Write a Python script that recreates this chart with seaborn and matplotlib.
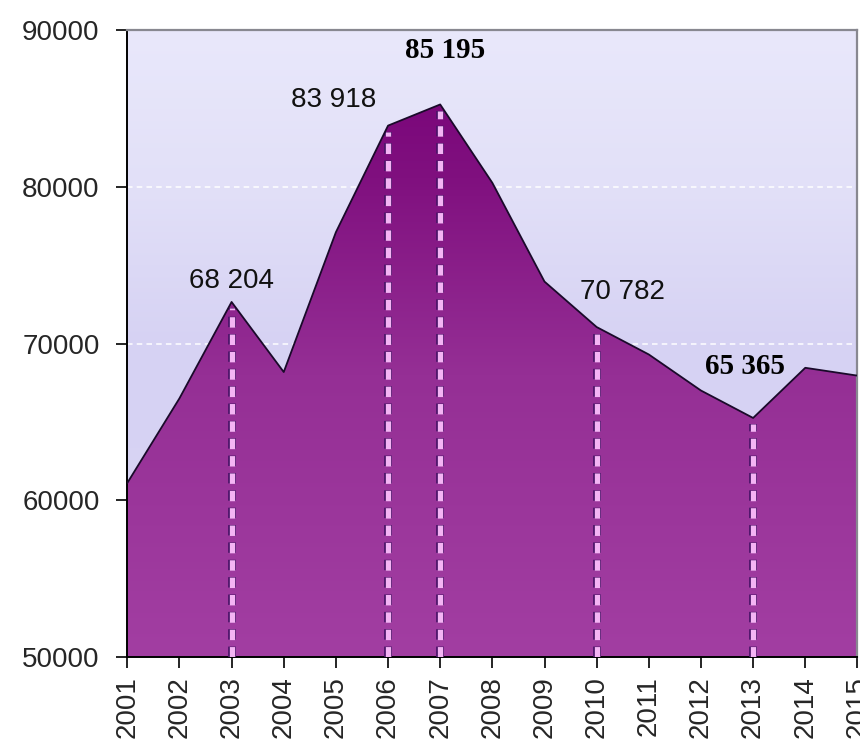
import numpy as np
import pandas as pd
import matplotlib
matplotlib.use("Agg")
import matplotlib.pyplot as plt
import matplotlib.patheffects as pe
import seaborn as sns
from matplotlib.colors import LinearSegmentedColormap

years = list(range(2001, 2016))
values = [61100, 66500, 72650, 68180, 77100, 83900, 85250, 80250,
          73950, 71050, 69300, 67000, 65250, 68450, 67950]
marked_years = [2003, 2006, 2007, 2010, 2013]
label_texts = ["68 204", "83 918", "85 195", "70 782", "65 365"]
label_x = [2003.0, 2004.95, 2007.1, 2010.5, 2012.85]
label_y = [74000, 85550, 88700, 73300, 68550]
label_bold = [False, False, True, False, True]
ytick_vals = [50000, 60000, 70000, 80000, 90000]
ytick_labels = ["50000", "60000", "70000", "80000", "90000"]

df = pd.DataFrame({"year": years, "value": values})

sns.set_theme(style="white")
plt.rcParams["font.family"] = ["Liberation Sans", "DejaVu Sans"]
plt.rcParams["lines.scale_dashes"] = False

fig = plt.figure(figsize=(8.6, 7.5), dpi=100)
ax = fig.add_axes([0.148, 0.124, 0.849, 0.836])

x0, x1 = years[0], years[-1]
y0, y1 = 50000, 90000
ax.set_xlim(x0, x1)
ax.set_ylim(y0, y1)

# background gradient
bg_cmap = LinearSegmentedColormap.from_list(
    "bg", [(0.0, "#d9d5f4"), (0.5, "#d6d2f3"), (0.75, "#e2e0f8"), (1.0, "#e9e8fb")])
grad = np.linspace(0, 1, 256).reshape(-1, 1)
ax.imshow(grad, cmap=bg_cmap, aspect="auto", extent=[x0, x1, y0, y1],
          origin="lower", zorder=0)

# gridlines
for gy in [60000, 70000, 80000]:
    ax.axhline(gy, color="white", lw=1.2, ls=(0, (4, 3)), zorder=1, alpha=0.9)

# area with gradient
poly = ax.fill_between(df["year"], df["value"], y0, color="none", lw=0, zorder=2)
area_cmap = LinearSegmentedColormap.from_list(
    "area", [(0.0, "#a23ea2"), (0.5, "#952f95"), (0.85, "#80107f"), (1.0, "#7a067a")])
im = ax.imshow(grad, cmap=area_cmap, aspect="auto",
               extent=[x0, x1, y0, 86000], origin="lower", zorder=2)
path = poly.get_paths()[0]
im.set_clip_path(path, transform=ax.transData)

sns.lineplot(data=df, x="year", y="value", ax=ax, color="#1a0a2a", lw=1.3,
             zorder=4, legend=False)

# vertical dashed lines
for yr in marked_years:
    v = values[years.index(yr)]
    ax.plot([yr, yr], [y0, v - 400], color="#f4b4f4", lw=3.8,
            ls=(0, (7.5, 5)), zorder=3.5, dash_capstyle="butt",
            path_effects=[pe.withStroke(linewidth=5.6, foreground="#4a1468")])

# annotations
for tx, lx, ly, b in zip(label_texts, label_x, label_y, label_bold):
    if b:
        ax.text(lx, ly, tx, ha="center", va="center", fontsize=21,
                fontweight="bold", family=["Liberation Serif", "DejaVu Serif"],
                color="black", zorder=5)
    else:
        ax.text(lx, ly, tx, ha="center", va="center", fontsize=20,
                color="#111111", zorder=5)

ax.set_xticks(years)
ax.set_xticklabels([str(y) for y in years], rotation=90, fontsize=20)
ax.set_yticks(ytick_vals)
ax.set_yticklabels(ytick_labels, fontsize=20)
ax.set_xlabel("")
ax.set_ylabel("")
ax.tick_params(axis="both", which="both", direction="out", length=8,
               width=1.2, color="black", bottom=True, left=True)
ax.tick_params(axis="y", pad=12)
ax.tick_params(axis="x", pad=6)

for s in ["left", "bottom"]:
    ax.spines[s].set_color("black")
    ax.spines[s].set_linewidth(1.4)
for s in ["top", "right"]:
    ax.spines[s].set_color("#888890")
    ax.spines[s].set_linewidth(1.6)

fig.savefig("out.png", dpi=100)
